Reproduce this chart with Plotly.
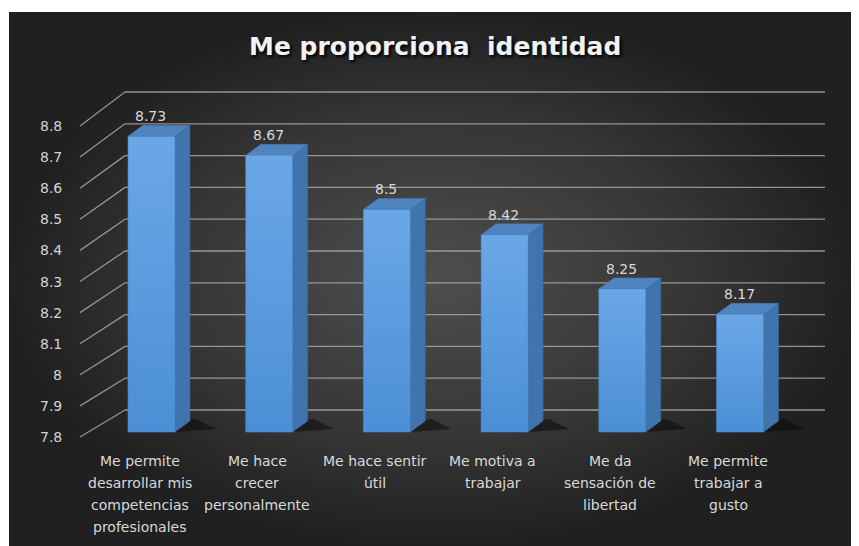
import plotly.graph_objects as go

# ---------------- data ----------------
categories = [
    "Me permite<br>desarrollar mis<br>competencias<br>profesionales",
    "Me hace<br>crecer<br>personalmente",
    "Me hace sentir<br>útil",
    "Me motiva a<br>trabajar",
    "Me da<br>sensación de<br>libertad",
    "Me permite<br>trabajar a<br>gusto",
]
values = [8.73, 8.67, 8.5, 8.42, 8.25, 8.17]
tick_values = [7.8, 7.9, 8.0, 8.1, 8.2, 8.3, 8.4, 8.5, 8.6, 8.7, 8.8]
tick_labels = ["7.8", "7.9", "8", "8.1", "8.2", "8.3", "8.4", "8.5", "8.6", "8.7", "8.8"]
title_text = "Me proporciona\u00a0 identidad"

# ---------------- geometry (page-pixel layout constants) ----------------
PAGE_W, PAGE_H = 859, 546
BODY = 8                         # default body margin of the html page
W, H = PAGE_W - BODY, PAGE_H - BODY
ML, MT = 9, 12                   # page px where the dark chart area starts
X_ORIGIN, X_UNIT = 151.5, 117.7  # page px of first category, px per category
Y_BASE, Y_ORIGIN, Y_UNIT = 7.8, 432.0, 318.0  # value at bar floor, page px, px per unit

def px_x(px):
    return (px - X_ORIGIN) / X_UNIT

def px_dy(px):
    return px / Y_UNIT

def px_y(px):
    return Y_BASE + (Y_ORIGIN - px) / Y_UNIT

BAR_W = 47 / X_UNIT
SIDE_DX = 15 / X_UNIT
TOP_DY = px_dy(11)
WALL_DY = px_dy(22)
WALL_X0, WALL_X1 = px_x(125), px_x(825)
EDGE_X = px_x(80)
LABEL_X = px_x(64)

def front_edge(v):
    # front edge of the floor / label plane (slightly different scale)
    return px_y(437 - (v - Y_BASE) * 311)

x_range = [px_x(ML), px_x(PAGE_W)]
y_range = [px_y(PAGE_H), px_y(MT)]

fig = go.Figure()

# background radial gradient
fig.add_trace(go.Scatter(
    x=[x_range[0], x_range[1], x_range[1], x_range[0], x_range[0]],
    y=[y_range[0], y_range[0], y_range[1], y_range[1], y_range[0]],
    mode="lines", fill="toself", line=dict(width=0),
    fillgradient=dict(type="radial", colorscale=[[0, "#4e4e4e"], [0.6, "#363636"], [1, "#202020"]]),
    hoverinfo="skip", showlegend=False,
))

grid_color = "rgba(175,175,175,0.8)"
# back wall grid lines + left wall diagonals
gx, gy = [], []
for v in tick_values:
    gx += [WALL_X0, WALL_X1, None]
    gy += [v + WALL_DY, v + WALL_DY, None]
    gx += [EDGE_X, WALL_X0, None]
    gy += [front_edge(v), v + WALL_DY, None]
fig.add_trace(go.Scatter(x=gx, y=gy, mode="lines", line=dict(color=grid_color, width=1.3),
                         hoverinfo="skip", showlegend=False))

xpos = list(range(len(values)))

# shadows on the floor
sx, sy = [], []
for i, v in zip(xpos, values):
    r = i + BAR_W / 2
    sx += [r, r + SIDE_DX + 0.22, r + SIDE_DX + 0.05, r, None]
    sy += [Y_BASE, Y_BASE + px_dy(3), Y_BASE + TOP_DY + px_dy(2), Y_BASE + TOP_DY, None]
fig.add_trace(go.Scatter(x=sx, y=sy, mode="lines", fill="toself", line=dict(width=0),
                         fillcolor="rgba(10,10,10,0.55)", hoverinfo="skip", showlegend=False))

# side faces
sx, sy = [], []
for i, v in zip(xpos, values):
    r = i + BAR_W / 2
    sx += [r, r + SIDE_DX, r + SIDE_DX, r, r, None]
    sy += [Y_BASE, Y_BASE + TOP_DY, v + TOP_DY, v, Y_BASE, None]
fig.add_trace(go.Scatter(x=sx, y=sy, mode="lines", fill="toself", line=dict(width=0.5, color="#36679c"),
                         fillcolor="#3f74ad", hoverinfo="skip", showlegend=False))

# top faces
tx, ty = [], []
for i, v in zip(xpos, values):
    l, r = i - BAR_W / 2, i + BAR_W / 2
    tx += [l, l + SIDE_DX, r + SIDE_DX, r, l, None]
    ty += [v, v + TOP_DY, v + TOP_DY, v, v, None]
fig.add_trace(go.Scatter(x=tx, y=ty, mode="lines", fill="toself", line=dict(width=0.5, color="#4778ad"),
                         fillcolor="#4f84be", hoverinfo="skip", showlegend=False))

# front faces with vertical gradient
for i, v in zip(xpos, values):
    l, r = i - BAR_W / 2, i + BAR_W / 2
    fig.add_trace(go.Scatter(
        x=[l, r, r, l, l], y=[Y_BASE, Y_BASE, v, v, Y_BASE],
        mode="lines", fill="toself", line=dict(width=0.6, color="#4a86c4"),
        fillgradient=dict(type="vertical", colorscale=[[0, "#4c8fd6"], [1, "#6aa7e6"]]),
        hoverinfo="skip", showlegend=False,
    ))

annotations = []
# value labels
for i, v in zip(xpos, values):
    annotations.append(dict(x=i, y=v + TOP_DY, text=f"{v:g}", showarrow=False,
                            xref="x", yref="y", yanchor="middle", yshift=9, xshift=-1,
                            font=dict(family="DejaVu Sans", size=14, color="#d9d9d9")))
# y tick labels
for v, t in zip(tick_values, tick_labels):
    annotations.append(dict(x=LABEL_X, y=front_edge(v), text=t, showarrow=False,
                            xref="x", yref="y", xanchor="right", yanchor="middle",
                            font=dict(family="DejaVu Sans", size=14, color="#d4d4d4")))
# category labels (one annotation per line, 22 px line pitch)
for i, cat in zip(xpos, categories):
    for k, line in enumerate(cat.split("<br>")):
        annotations.append(dict(x=i, y=Y_BASE, text=line, showarrow=False,
                                xref="x", yref="y", xanchor="center", yanchor="middle",
                                xshift=-12, yshift=-(29 + 22 * k),
                                font=dict(family="DejaVu Sans", size=14, color="#d9d9d9")))
# title
annotations.append(dict(x=(434.5 - ML) / (PAGE_W - ML), y=1 - (46 - MT) / (PAGE_H - MT),
                        xref="paper", yref="paper",
                        text=title_text, showarrow=False, xanchor="center", yanchor="middle",
                        font=dict(family="DejaVu Sans", size=25, color="#f2f2f2", weight="bold",
                                  shadow="2px 2px 3px #000000")))

fig.update_layout(
    width=W, height=H,
    margin=dict(l=ML - BODY, r=0, t=MT - BODY, b=0, pad=0),
    paper_bgcolor="#ffffff", plot_bgcolor="#2b2b2b",
    xaxis=dict(range=x_range, visible=False, fixedrange=True),
    yaxis=dict(range=y_range, visible=False, fixedrange=True),
    showlegend=False,
    annotations=annotations,
)

fig.write_html("out.html")
